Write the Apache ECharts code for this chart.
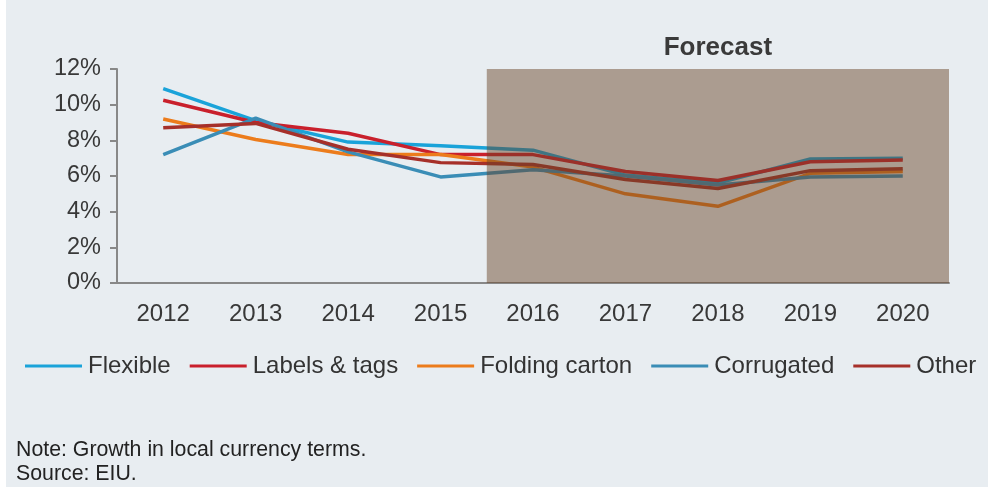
<!DOCTYPE html>
<html>
<head>
<meta charset="utf-8">
<script src="https://cdn.jsdelivr.net/npm/echarts@6/dist/echarts.min.js"></script>
<style>
  html, body { margin: 0; padding: 0; background: #fff; }
  #chart { position: absolute; left: 0; top: 0; width: 992px; height: 490px; }
</style>
</head>
<body>
<div id="chart"></div>
<script>
// values (annual growth, %)
var years = ['2012', '2013', '2014', '2015', '2016', '2017', '2018', '2019', '2020']
var flexible = [10.9, 9.1, 7.9, 7.7, 7.45, 6.05, 5.6, 6.95, 7.0]
var labelsTags = [10.25, 9.0, 8.4, 7.2, 7.2, 6.25, 5.75, 6.8, 6.9]
var foldingCarton = [9.2, 8.05, 7.2, 7.2, 6.5, 5.0, 4.3, 6.15, 6.25]
var corrugated = [7.2, 9.25, 7.35, 5.95, 6.35, 6.0, 5.5, 5.95, 6.0]
var other = [8.7, 8.95, 7.5, 6.75, 6.65, 5.8, 5.3, 6.3, 6.4]
var yTicks = [0, 2, 4, 6, 8, 10, 12]
var forecastFrom = 4   // band index where the forecast starts (2016)

var font = 'Liberation Sans, Arial, sans-serif'
var chart = echarts.init(document.getElementById('chart'))

function line(name, data, color) {
    return {
        name: name,
        type: 'line',
        data: data,
        symbol: 'none',
        z: 2,
        lineStyle: { color: color, width: 3.5 },
        itemStyle: { color: color }
    }
}

chart.setOption({
    animation: false,
    textStyle: { fontFamily: font },
    graphic: [
        { type: 'rect', shape: { x: 6, y: 0, width: 982, height: 487 }, style: { fill: '#e8edf1' }, z: -10 },
        { type: 'text', left: 16, top: 440, style: { text: 'Note: Growth in local currency terms.', font: '21.3px ' + font, fill: '#222' } },
        { type: 'text', left: 16, top: 464, style: { text: 'Source: EIU.', font: '21.3px ' + font, fill: '#222' } }
    ],
    grid: { left: 117, right: 43, top: 69, bottom: 207 },
    legend: {
        left: 20,
        top: 349,
        icon: 'rect',
        itemWidth: 57,
        itemHeight: 3,
        itemGap: 19,
        textStyle: { fontSize: 24, color: '#333', fontFamily: font, padding: [0, 0, 0, 1] },
        data: ['Flexible', 'Labels & tags', 'Folding carton', 'Corrugated', 'Other']
    },
    xAxis: [{
        type: 'category',
        data: years,
        boundaryGap: true,
        axisLine: { lineStyle: { color: '#888', width: 2 } },
        axisTick: { length: 7, lineStyle: { color: '#888', width: 2 } },
        axisLabel: { fontSize: 24, color: '#383838', margin: 19 }
    }, {
        type: 'value',
        min: 0,
        max: years.length,
        show: false
    }],
    yAxis: {
        type: 'value',
        min: yTicks[0],
        max: yTicks[yTicks.length - 1],
        interval: 2,
        splitLine: { show: false },
        axisLine: { show: true, lineStyle: { color: '#888', width: 2 } },
        axisTick: { show: true, length: 7, lineStyle: { color: '#888', width: 2 } },
        axisLabel: { fontSize: 23.5, color: '#383838', margin: 16, formatter: '{value}%' }
    },
    series: [
        line('Flexible', flexible, '#1aa3d9'),
        line('Labels & tags', labelsTags, '#c9202c'),
        line('Folding carton', foldingCarton, '#ec7c1c'),
        line('Corrugated', corrugated, '#3a8db6'),
        line('Other', other, '#a6302a'),
        {
            // holds the shaded forecast band, drawn over the lines
            name: 'forecast',
            type: 'line',
            xAxisIndex: 1,
            data: [],
            markArea: {
                z: 5,
                silent: true,
                itemStyle: { color: 'rgba(105,66,37,0.48)' },
                label: {
                    show: true,
                    position: 'top',
                    distance: 8,
                    color: '#3a3a3a',
                    fontSize: 26,
                    fontWeight: 'bold',
                    fontFamily: font
                },
                data: [[
                    { name: 'Forecast', xAxis: forecastFrom, yAxis: 0 },
                    { xAxis: years.length, yAxis: 12 }
                ]]
            }
        }
    ]
})
</script>
</body>
</html>
